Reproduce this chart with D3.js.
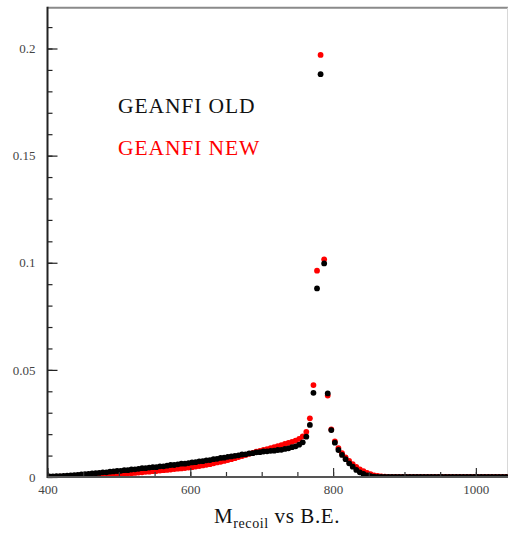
<!DOCTYPE html>
<html>
<head>
<meta charset="utf-8">
<script src="https://cdn.jsdelivr.net/npm/d3@7"></script>
<style>
  html, body { margin: 0; padding: 0; background: #fff; }
  svg { display: block; }
</style>
</head>
<body>
<svg id="chart" width="509" height="533"></svg>
<script>
// ---- data ----
const binStart = 400, binWidth = 5;   // bin centers: 402.5, 407.5, ...
const oldValues = [
  0.0003,0.0003,0.0004,0.0004,0.0005,0.0006,0.0007,0.0009,0.0010,0.0012,
  0.0013,0.0015,0.0017,0.0018,0.0019,0.0022,0.0022,0.0025,0.0026,0.0028,
  0.0029,0.0032,0.0032,0.0035,0.0036,0.0038,0.0041,0.0041,0.0044,0.0046,
  0.0046,0.0050,0.0050,0.0053,0.0056,0.0056,0.0059,0.0062,0.0062,0.0065,
  0.0068,0.0069,0.0073,0.0074,0.0078,0.0079,0.0083,0.0085,0.0089,0.0090,
  0.0094,0.0096,0.0099,0.0101,0.0105,0.0106,0.0110,0.0111,0.0115,0.0116,
  0.0119,0.0120,0.0122,0.0123,0.0126,0.0127,0.0131,0.0134,0.0139,0.0143,
  0.0151,0.0162,0.0188,0.0243,0.0393,0.0880,0.1880,0.0997,0.0390,0.0219,
  0.0160,0.0126,0.0103,0.0083,0.0064,0.0048,0.0033,0.0022,0.0014,0.0008,
  0.0004,0.0002,0.0001,
  0,0,0,0,0,0,0,0,0,0, 0,0,0,0,0,0,0,0,0,0, 0,0,0,0,0,0,0,0,0,0, 0,0,0,0,0,0
];
const newValues = [
  0.0001,0.0001,0.0001,0.0002,0.0002,0.0002,0.0003,0.0003,0.0004,0.0004,
  0.0005,0.0005,0.0006,0.0007,0.0008,0.0009,0.0010,0.0011,0.0012,0.0013,
  0.0014,0.0015,0.0017,0.0018,0.0019,0.0021,0.0022,0.0024,0.0025,0.0027,
  0.0028,0.0030,0.0032,0.0033,0.0035,0.0037,0.0039,0.0040,0.0042,0.0044,
  0.0046,0.0049,0.0051,0.0054,0.0057,0.0060,0.0064,0.0068,0.0071,0.0075,
  0.0079,0.0083,0.0088,0.0093,0.0098,0.0103,0.0108,0.0113,0.0118,0.0122,
  0.0126,0.0130,0.0135,0.0139,0.0144,0.0149,0.0154,0.0159,0.0164,0.0170,
  0.0178,0.0190,0.0211,0.0274,0.0429,0.0963,0.1970,0.1016,0.0380,0.0222,
  0.0166,0.0135,0.0111,0.0092,0.0075,0.0060,0.0047,0.0036,0.0027,0.0019,
  0.0013,0.0008,0.0005,0.0003,0.0002,0.0001,
  0,0,0,0,0,0,0,0,0,0, 0,0,0,0,0,0,0,0,0,0, 0,0,0,0,0,0,0,0,0,0, 0,0,0
];
const xMajorTicks = [400, 600, 800, 1000];
const yMajorTicks = [0, 0.05, 0.1, 0.15, 0.2];
const yTickLabels = ["0", "0.05", "0.1", "0.15", "0.2"];
const seriesNames = ["GEANFI OLD", "GEANFI NEW"];

// ---- layout ----
const svg = d3.select("#chart");
const x = d3.scaleLinear().domain([400, 1045]).range([47.5, 508]);
const y = d3.scaleLinear().domain([0, 0.2]).range([477, 48.5]);
const yTop = 0.219;

const toPoints = vals => vals.map((v, i) => ({ x: binStart + binWidth * (i + 0.5), y: v }));

svg.append("defs").append("clipPath").attr("id", "clip")
  .append("rect")
  .attr("x", x(400)).attr("y", y(yTop))
  .attr("width", x(1045) - x(400)).attr("height", y(0) - y(yTop) - 0.5);

// frame
svg.append("line").attr("x1", x(400)).attr("x2", x(1045)).attr("y1", y(yTop)).attr("y2", y(yTop))
  .attr("stroke", "#8a8a8a").attr("stroke-width", 2);
svg.append("line").attr("x1", x(1045) - 0.5).attr("x2", x(1045) - 0.5).attr("y1", y(yTop)).attr("y2", y(0))
  .attr("stroke", "#d8d8d8").attr("stroke-width", 1);

// points
const plot = svg.append("g").attr("clip-path", "url(#clip)");
[[newValues, "#ff0000"], [oldValues, "#000000"]].forEach(([vals, col]) => {
  plot.append("g").selectAll("circle").data(toPoints(vals)).join("circle")
    .attr("cx", d => x(d.x)).attr("cy", d => y(d.y)).attr("r", 2.9)
    .attr("fill", col);
});

// axes
const fontFam = "'Liberation Serif', 'DejaVu Serif', serif";
function styleAxis(g, color) {
  g.select(".domain").remove();
  g.selectAll("line").attr("stroke", color).attr("stroke-width", 1.2);
  g.selectAll("text").attr("fill", "#444").style("font-family", fontFam).style("font-size", "13px");
}

// y minor
svg.append("g").attr("transform", `translate(${x(400)},0)`)
  .call(d3.axisLeft(y).tickValues(d3.range(0, 0.2155, 0.01)).tickSize(-5).tickFormat(""))
  .call(g => styleAxis(g, "#222"));
// y major
svg.append("g").attr("transform", `translate(${x(400)},0)`)
  .call(d3.axisLeft(y).tickValues(yMajorTicks).tickSize(-10).tickPadding(12)
    .tickFormat((d, i) => yTickLabels[i]))
  .call(g => styleAxis(g, "#222"));
// x minor
svg.append("g").attr("transform", `translate(0,${y(0)})`)
  .call(d3.axisBottom(x).tickValues(d3.range(400, 1046, 50)).tickSize(-5).tickFormat(""))
  .call(g => styleAxis(g, "#333"));
// x major
svg.append("g").attr("transform", `translate(0,${y(0)})`)
  .call(d3.axisBottom(x).tickValues(xMajorTicks).tickSize(-9).tickPadding(8).tickFormat(d3.format("d")))
  .call(g => styleAxis(g, "#333"));

// axis lines
svg.append("line").attr("x1", x(400)).attr("x2", x(400)).attr("y1", y(yTop) - 1).attr("y2", y(0) + 1)
  .attr("stroke", "#222").attr("stroke-width", 2);
svg.append("line").attr("x1", x(400)).attr("x2", x(1045)).attr("y1", y(0)).attr("y2", y(0))
  .attr("stroke", "#555").attr("stroke-width", 2);

// axis title
const title = svg.append("text").attr("x", 214).attr("y", 523)
  .style("font-family", fontFam).style("font-size", "21px").style("letter-spacing", "0.6px").attr("fill", "#111");
title.append("tspan").text("M");
title.append("tspan").attr("dy", 5).style("font-size", "14px").text("recoil");
title.append("tspan").attr("dy", -5).text(" vs B.E.");

// legend
svg.append("text").attr("x", 118).attr("y", 113).text(seriesNames[0])
  .style("font-family", fontFam).style("font-size", "21.5px").style("letter-spacing", "0.9px").attr("fill", "#111");
svg.append("text").attr("x", 118).attr("y", 155).text(seriesNames[1])
  .style("font-family", fontFam).style("font-size", "21.5px").style("letter-spacing", "0.9px").attr("fill", "#ff0000");
</script>
</body>
</html>
